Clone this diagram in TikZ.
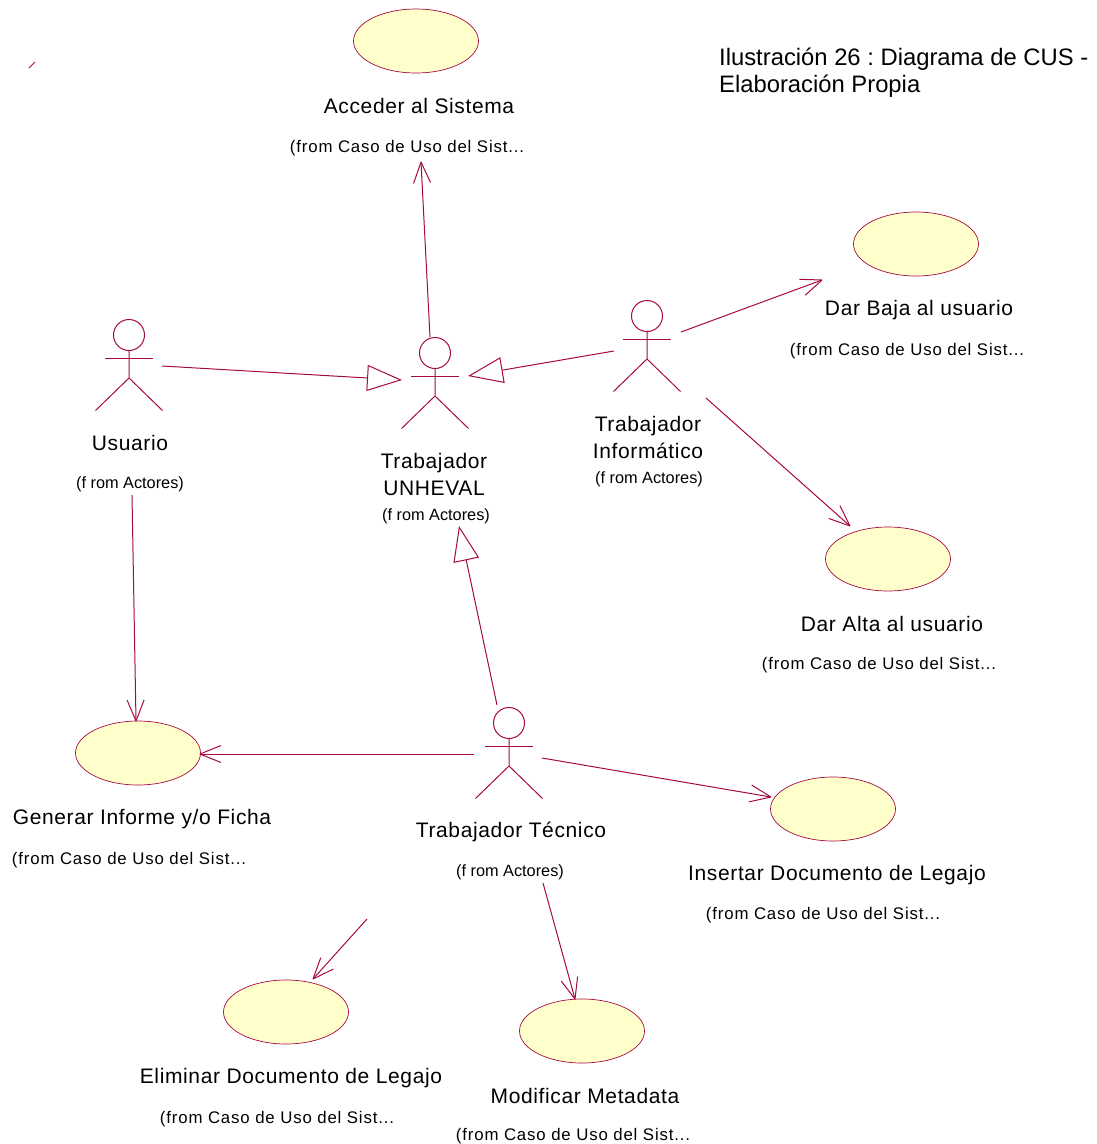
\documentclass[tikz,border=0pt]{standalone}
\usepackage{fontspec}
\setmainfont{Liberation Sans}
\newfontfamily\spacedfont[LetterSpace=3]{Liberation Sans}
\newfontfamily\widefont[LetterSpace=5]{Liberation Sans}
\usetikzlibrary{arrows.meta,shapes.geometric}
\definecolor{umlline}{RGB}{165,10,65}
\definecolor{umlfill}{RGB}{255,255,204}
\pgfdeclarearrow{
  name=OpenVee,
  setup code={\pgfarrowssettipend{0pt}\pgfarrowssetbackend{-21pt}\pgfarrowssetlineend{-1pt}\pgfarrowssetvisualbackend{-1pt}},
  drawing code={
    \pgfsetdash{}{0pt}\pgfsetlinewidth{1pt}\pgfsetroundjoin
    \pgfpathmoveto{\pgfpoint{-21pt}{8.5pt}}
    \pgfpathlineto{\pgfpoint{0pt}{0pt}}
    \pgfpathlineto{\pgfpoint{-21pt}{-8.5pt}}
    \pgfusepathqstroke}
}
% one pixel of the reference is 1pt here
\tikzset{x=1pt,y=-1pt,
  usecase/.style={ellipse,draw=umlline,fill=umlfill,line width=0.7pt,minimum width=125pt,minimum height=64pt,inner sep=0pt},
  title/.style={align=center,font=\frenchspacing\spacedfont\fontsize{21}{27}\selectfont,inner sep=0pt},
  origin/.style={align=center,font=\frenchspacing\widefont\fontsize{16.8}{18}\selectfont,inner sep=0pt},
  actororigin/.style={align=center,font=\fontsize{16.3}{18}\selectfont,inner sep=0pt},
  assoc/.style={draw=umlline,line width=1pt,-{OpenVee}},
  general/.style={draw=umlline,line width=1pt,-{Triangle[open,length=35pt,width=26pt,line width=1pt,fill=white]}},
  actorline/.style={draw=umlline,line width=1pt},
  actor/.pic={
    \draw[actorline] (0,-31) circle (15.5);
    \draw[actorline] (-24,-8) -- (24,-8);
    \draw[actorline] (0,-15.5) -- (0,12) (-33.5,44.5) -- (0,12) -- (33.5,44.5);
  }}
\begin{document}
\begin{tikzpicture}
  \useasboundingbox (0,0) rectangle (1097,1144);

  % use cases
  \node[usecase] (acceder) at (416,41) {};
  \node[usecase] (baja) at (916,244) {};
  \node[usecase] (alta) at (888,559) {};
  \node[usecase] (informe) at (138,753) {};
  \node[usecase] (insertar) at (833,809) {};
  \node[usecase] (eliminar) at (286,1012) {};
  \node[usecase] (modificar) at (582,1031) {};

  % actors
  \pic at (129,366) {actor};
  \pic at (435,384) {actor};
  \pic at (647,347) {actor};
  \pic at (509,754) {actor};

  % labels of the use cases
  \node[title] (tacceder) at (419,106) {Acceder al Sistema};
  \node[origin] (facceder) at (407,148) {(from Caso de Uso del Sist...};
  \node[title] (tbaja) at (919,310) {Dar Baja al usuario};
  \node[origin] (fbaja) at (907,351) {(from Caso de Uso del Sist...};
  \node[title] (talta) at (892,624) {Dar Alta al usuario};
  \node[origin] (falta) at (879,665) {(from Caso de Uso del Sist...};
  \node[title] (tinforme) at (142,819) {Generar Informe y/o Ficha};
  \node[origin] (finforme) at (129,860) {(from Caso de Uso del Sist...};
  \node[title] (tinsertar) at (837,875) {Insertar Documento de Legajo};
  \node[origin] (finsertar) at (823,915) {(from Caso de Uso del Sist...};
  \node[title] (teliminar) at (291,1078) {Eliminar Documento de Legajo};
  \node[origin] (feliminar) at (277,1119) {(from Caso de Uso del Sist...};
  \node[title] (tmodificar) at (585,1096) {Modificar Metadata};
  \node[origin] (fmodificar) at (573,1136) {(from Caso de Uso del Sist...};

  % labels of the actors
  \node[title] (tusuario) at (130,443) {Usuario};
  \node[actororigin] (fusuario) at (130,484) {(f rom Actores)};
  \node[title] (tunheval) at (434,474) {Trabajador\\UNHEVAL};
  \node[actororigin] (funheval) at (436,516) {(f rom Actores)};
  \node[title] (tinfo) at (648,437) {Trabajador\\Informático};
  \node[actororigin] (finfo) at (649,479) {(f rom Actores)};
  \node[title] (ttecnico) at (511,832) {Trabajador Técnico};
  \node[actororigin] (ftecnico) at (510,872) {(f rom Actores)};

  \node[font=\frenchspacing\fontsize{23.8}{27}\selectfont,align=left,anchor=west,inner sep=0pt] (titulo) at (719,73) {Ilustración 26 : Diagrama de CUS -\\Elaboración Propia};

  % free ends of the connectors
  \coordinate (a1) at (430,337);
  \coordinate (a2) at (421,162);
  \coordinate (b1) at (681,332);
  \coordinate (b2) at (822,280);
  \coordinate (c1) at (706,398);
  \coordinate (c2) at (850,526);
  \coordinate (d1) at (132,495);
  \coordinate (d2) at (136,721);
  \coordinate (e1) at (474,754);
  \coordinate (e2) at (200,754);
  \coordinate (f1) at (542,758);
  \coordinate (f2) at (771,797);
  \coordinate (g1) at (543,883);
  \coordinate (g2) at (575,999);
  \coordinate (h1) at (367,919);
  \coordinate (h2) at (313,979);
  \coordinate (i1) at (162,366);
  \coordinate (i2) at (402,380);
  \coordinate (j1) at (614,351);
  \coordinate (j2) at (468,376);
  \coordinate (k1) at (497,705);
  \coordinate (k2) at (459,526);
  \coordinate (m1) at (29,68);
  \coordinate (m2) at (35,62);

  \draw[assoc] (a1) -- (a2);
  \draw[assoc] (b1) -- (b2);
  \draw[assoc] (c1) -- (c2);
  \draw[assoc] (d1) -- (d2);
  \draw[assoc] (e1) -- (e2);
  \draw[assoc] (f1) -- (f2);
  \draw[assoc] (g1) -- (g2);
  \draw[assoc] (h1) -- (h2);
  \draw[general] (i1) -- (i2);
  \draw[general] (j1) -- (j2);
  \draw[general] (k1) -- (k2);
  \draw[actorline] (m1) -- (m2);
\end{tikzpicture}
\end{document}
